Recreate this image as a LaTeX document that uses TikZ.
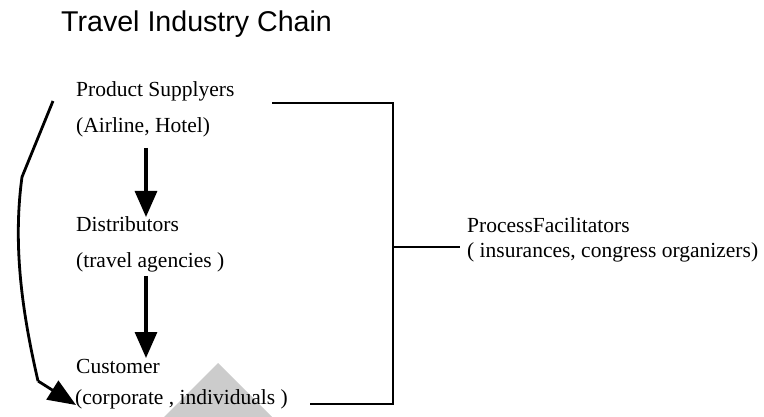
\documentclass[tikz,border=0pt]{standalone}
\usepackage{fontspec}
\setmainfont{Liberation Serif}
\newfontfamily\titlefont{Liberation Sans}
\usetikzlibrary{arrows.meta}
\begin{document}
\begin{tikzpicture}[x=1pt,y=-1pt,
  lbl/.style={anchor=base west,inner sep=0pt,font=\fontsize{21.5}{24}\selectfont},
  ttl/.style={anchor=base west,inner sep=0pt,font=\titlefont\fontsize{28.6}{31}\selectfont},
  flowarrow/.style={line width=3.2pt,-{Triangle[width=22pt,length=26pt]}},
  brk/.style={line width=2.8pt},
  curveline/.style={line width=2.8pt,line join=miter},
  curvehead/.style={line width=2.8pt,-{Triangle[width=22pt,length=28pt]}},
  greyshape/.style={fill=black!20,draw=none}]
\useasboundingbox (0,0) rectangle (764,417);
% light grey triangle in the background
\fill[greyshape] (218,363) -- (272,417) -- (164,417) -- cycle;
% title
\node[ttl] (title) at (61,32) {Travel Industry Chain};
% chain labels
\node[lbl] (supp) at (76,97) {Product Supplyers};
\node[lbl] (air) at (76,133) {(Airline, Hotel)};
\node[lbl] (dist) at (76,232) {Distributors};
\node[lbl] (agen) at (76,268) {(travel agencies )};
\node[lbl] (cust) at (76,373) {Customer};
\node[lbl] (corp) at (75,404) {(corporate , individuals )};
\node[lbl] (proc) at (467,233) {ProcessFacilitators};
\node[lbl] (ins) at (467,258) {( insurances, congress organizers)};
% connector points
\coordinate (a1s) at (146,148);
\coordinate (a1e) at (146,217);
\coordinate (a2s) at (146,276);
\coordinate (a2e) at (146,358);
\coordinate (btop) at (272,103);
\coordinate (bcorner1) at (393,103);
\coordinate (bcorner2) at (393,404);
\coordinate (bbot) at (310,404);
\coordinate (bmid) at (393,247);
\coordinate (bmidend) at (460,247);
\coordinate (cstart) at (53,101);
\coordinate (ckink) at (22,177);
\coordinate (ckink2) at (38,381);
\coordinate (cend) at (76,405);
% vertical arrows
\draw[flowarrow] (a1s) -- (a1e);
\draw[flowarrow] (a2s) -- (a2e);
% bracket to process facilitators
\draw[brk] (btop) -- (bcorner1) -- (bcorner2) -- (bbot);
\draw[brk] (bmid) -- (bmidend);
% curved arrow from suppliers to customers
\draw[curveline] (cstart) -- (ckink) .. controls (12,250) and (24,320) .. (ckink2);
\draw[curvehead] (ckink2) -- (cend);
\end{tikzpicture}
\end{document}
